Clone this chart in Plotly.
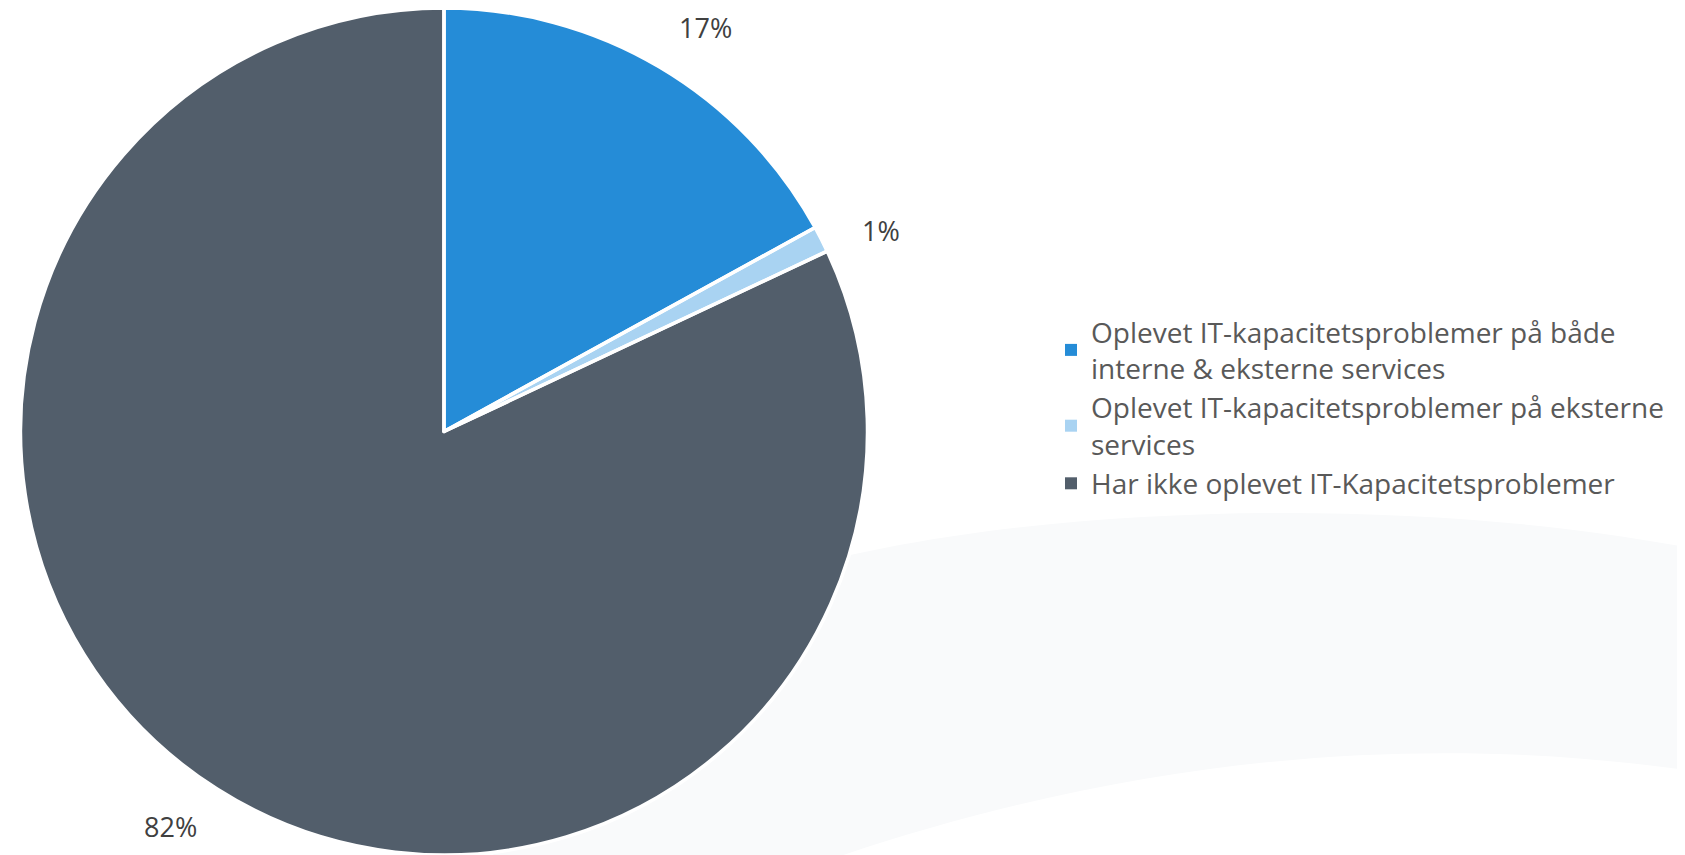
import math
import plotly.graph_objects as go

# ---- data ----
categories = [
    "Oplevet IT-kapacitetsproblemer på både<br>interne & eksterne services",
    "Oplevet IT-kapacitetsproblemer på eksterne<br>services",
    "Har ikke oplevet IT-Kapacitetsproblemer",
]
values = [17, 1, 82]
colors = ["#258cd7", "#a9d3f2", "#525e6b"]

# page body has an 8px default margin; size the figure to fit the window
OFF = 8
W, H = 1685 - OFF, 855 - OFF


def px2paper(sx, sy):
    """screen pixel -> paper coords"""
    return (sx - OFF) / W, 1 - (sy - OFF) / H


# pie geometry (screen px)
PCX, PR = 444, 423.5
dom_x = [(PCX - OFF - PR) / W, (PCX - OFF + PR) / W]
dom_y = [0.0, 1.0]

common = dict(labels=categories, values=values, sort=False,
              direction="clockwise", rotation=0, textinfo="none",
              domain=dict(x=dom_x, y=dom_y))

fig = go.Figure()
# filled slices (also drive the legend)
fig.add_trace(go.Pie(
    marker=dict(colors=colors, line=dict(width=0)),
    hoverinfo="label+percent",
    **common,
))
# white separators between the slices
fig.add_trace(go.Pie(
    marker=dict(colors=["rgba(0,0,0,0)"] * len(values),
                line=dict(color="white", width=3.5)),
    hoverinfo="skip",
    showlegend=False,
    **common,
))

# percentage labels placed outside the slices, computed from the data
total = sum(values)
cx = (dom_x[0] + dom_x[1]) / 2 * W
cy = (dom_y[0] + dom_y[1]) / 2 * H  # from bottom
r = min((dom_x[1] - dom_x[0]) * W, (dom_y[1] - dom_y[0]) * H) / 2
cum = 0
for v in values:
    mid = (cum + v / 2) / total * 2 * math.pi + math.radians(2.3)
    cum += v
    f = 1.135
    lx = cx + f * r * math.sin(mid)
    ly = cy + f * r * math.cos(mid)
    fig.add_annotation(
        x=lx / W, y=ly / H, xref="paper", yref="paper",
        text=f"{round(v / total * 100)}%", showarrow=False,
        font=dict(size=27, color="#404040", family="Open Sans"),
        xanchor="center", yanchor="middle",
    )


# faint decorative swoosh in the background (left part hidden behind the pie)
def P(sx, sy):
    x, y = px2paper(sx, sy)
    return f"{x:.4f},{y:.4f}"


swoosh = (
    f"M {P(700, 600)} C {P(950, 500)} {P(1400, 490)} {P(1700, 550)} "
    f"L {P(1700, 772)} C {P(1450, 735)} {P(1150, 745)} {P(800, 870)} "
    f"L {P(480, 880)} L {P(600, 650)} Z"
)
fig.add_shape(type="path", path=swoosh, xref="paper", yref="paper",
              fillcolor="#f9fafb", line=dict(width=0), layer="below")

lx0, ly0 = px2paper(1051, 307)
fig.update_layout(
    width=W, height=H,
    margin=dict(l=0, r=0, t=0, b=0),
    paper_bgcolor="white",
    plot_bgcolor="white",
    font=dict(family="Open Sans", color="#595959"),
    showlegend=True,
    legend=dict(
        x=lx0, y=ly0, xanchor="left", yanchor="top",
        font=dict(size=28, color="#595959", family="Open Sans"),
        bgcolor="rgba(0,0,0,0)",
        itemclick=False,
    ),
)

fig.write_html("out.html")
